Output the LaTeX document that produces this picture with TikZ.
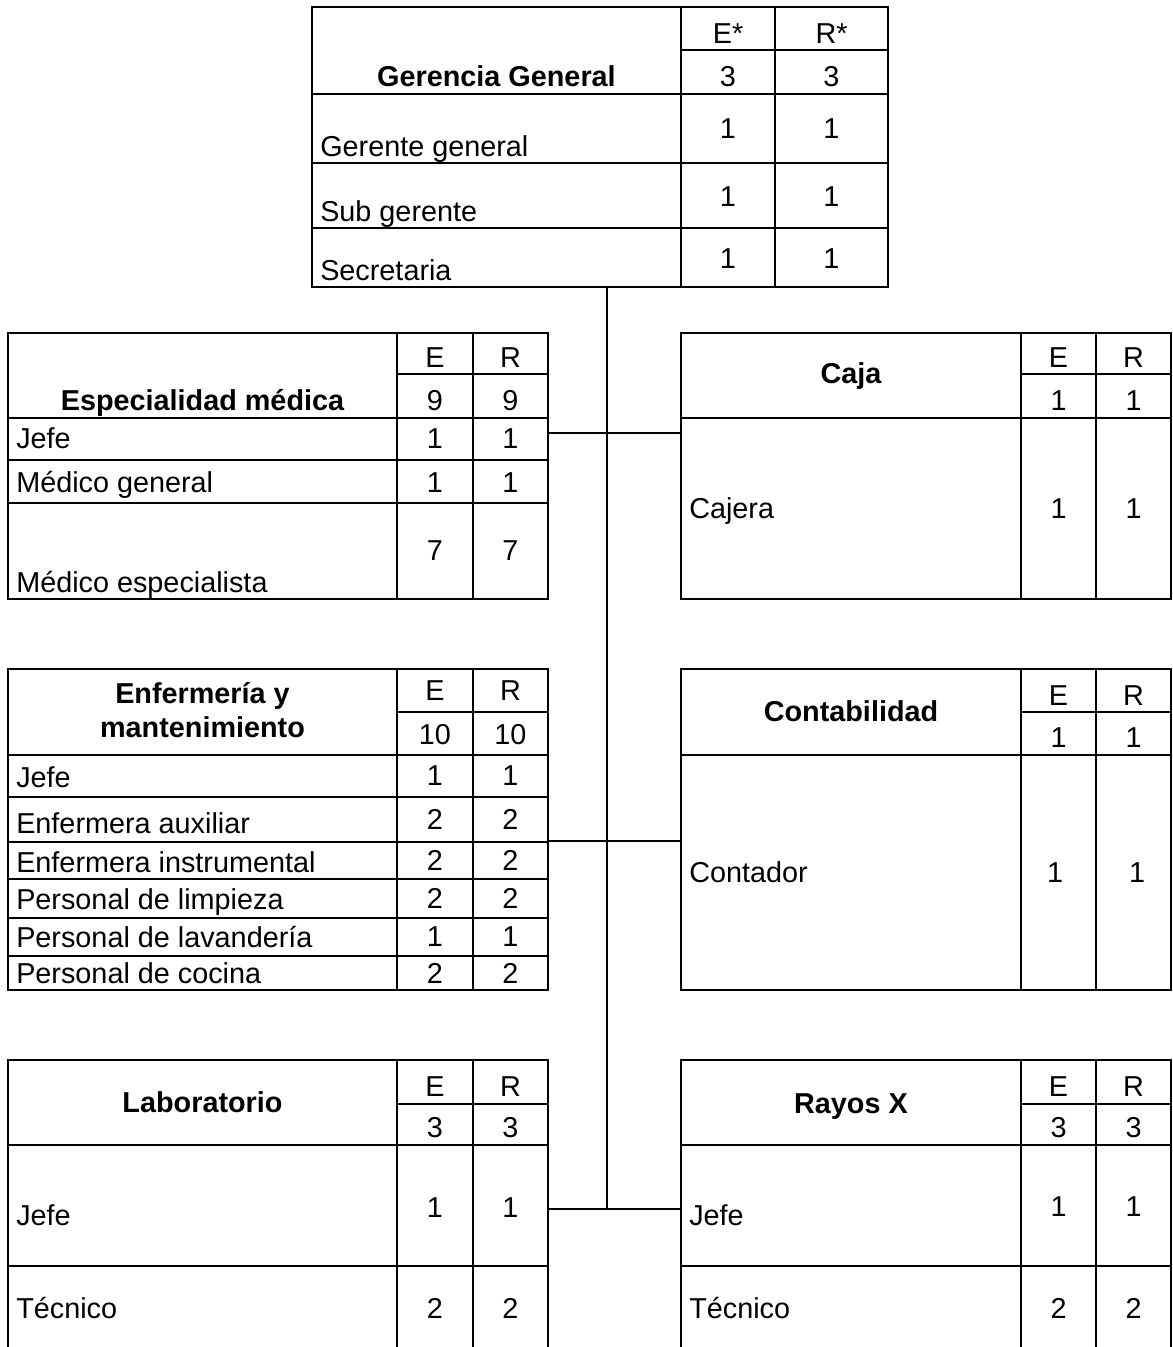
\documentclass[tikz,border=0pt]{standalone}
\usepackage{fontspec}
\setmainfont{Liberation Sans}
\begin{document}
\begin{tikzpicture}[x=0.75pt,y=-0.75pt,
  frame/.style={draw, line width=1.5pt, inner sep=0pt, outer sep=0pt, anchor=north west},
  rule/.style={line width=1.5pt},
  link/.style={line width=1pt},
  lab/.style={font=\fontsize{21.6}{26}\selectfont, inner sep=0pt, anchor=base west},
  num/.style={font=\fontsize{21.6}{26}\selectfont, inner sep=0pt, anchor=base},
  head/.style={font=\fontsize{21.6}{26}\selectfont\bfseries, inner sep=0pt, anchor=base}]
\useasboundingbox (0,0) rectangle (1172,1347);
\clip (0,0) rectangle (1172,1347);

% ---------- Gerencia General ----------
\node[frame, minimum width=432pt, minimum height=210pt] (gg) at (312,7) {};
\draw[rule] (681,7) -- (681,287) (775,7) -- (775,287) (681,50) -- (888,50)
  (312,94) -- (888,94) (312,163) -- (888,163) (312,228) -- (888,228);
\node[head] (gg-h) at (496.5,86) {Gerencia General};
\node[num] (gg-e) at (728,43) {E*};
\node[num] (gg-r) at (831.5,43) {R*};
\node[num] (gg-et) at (728,86) {3};
\node[num] (gg-rt) at (831.5,86) {3};
\node[lab] (gg-1) at (320,156) {Gerente general};
\node[num] (gg-1e) at (728,138) {1};
\node[num] (gg-1r) at (831.5,138) {1};
\node[lab] (gg-2) at (320,221) {Sub gerente};
\node[num] (gg-2e) at (728,206) {1};
\node[num] (gg-2r) at (831.5,206) {1};
\node[lab] (gg-3) at (320,280) {Secretaria};
\node[num] (gg-3e) at (728,268) {1};
\node[num] (gg-3r) at (831.5,268) {1};

% ---------- Especialidad médica ----------
\node[frame, minimum width=405pt, minimum height=199.5pt] (esp) at (8,333) {};
\draw[rule] (397,333) -- (397,599) (473,333) -- (473,599) (397,374) -- (548,374)
  (8,418) -- (548,418) (8,460) -- (548,460) (8,503) -- (548,503);
\node[head] (esp-h) at (202.5,410) {Especialidad médica};
\node[num] (esp-e) at (435,367) {E};
\node[num] (esp-r) at (510.5,367) {R};
\node[num] (esp-et) at (435,410) {9};
\node[num] (esp-rt) at (510.5,410) {9};
\node[lab] (esp-1) at (16,448) {Jefe};
\node[num] (esp-1e) at (435,448) {1};
\node[num] (esp-1r) at (510.5,448) {1};
\node[lab] (esp-2) at (16,492) {Médico general};
\node[num] (esp-2e) at (435,492) {1};
\node[num] (esp-2r) at (510.5,492) {1};
\node[lab] (esp-3) at (16,592) {Médico especialista};
\node[num] (esp-3e) at (435,560) {7};
\node[num] (esp-3r) at (510.5,560) {7};

% ---------- Caja ----------
\node[frame, minimum width=367.5pt, minimum height=199.5pt] (caja) at (681,333) {};
\draw[rule] (1021,333) -- (1021,599) (1096,333) -- (1096,599) (1021,374) -- (1171,374)
  (681,418) -- (1171,418);
\node[head] (caja-h) at (851,383) {Caja};
\node[num] (caja-e) at (1058.5,367) {E};
\node[num] (caja-r) at (1133.5,367) {R};
\node[num] (caja-et) at (1058.5,410) {1};
\node[num] (caja-rt) at (1133.5,410) {1};
\node[lab] (caja-1) at (689,518) {Cajera};
\node[num] (caja-1e) at (1058.5,518) {1};
\node[num] (caja-1r) at (1133.5,518) {1};

% ---------- Enfermería y mantenimiento ----------
\node[frame, minimum width=405pt, minimum height=240.75pt] (enf) at (8,669) {};
\draw[rule] (397,669) -- (397,990) (473,669) -- (473,990) (397,712) -- (548,712)
  (8,755) -- (548,755) (8,797) -- (548,797) (8,842) -- (548,842)
  (8,879) -- (548,879) (8,918) -- (548,918) (8,956) -- (548,956);
\node[head] (enf-h1) at (202.5,703) {Enfermería y};
\node[head] (enf-h2) at (202.5,737) {mantenimiento};
\node[num] (enf-e) at (435,700) {E};
\node[num] (enf-r) at (510.5,700) {R};
\node[num] (enf-et) at (435,744) {10};
\node[num] (enf-rt) at (510.5,744) {10};
\node[lab] (enf-1) at (16,787) {Jefe};
\node[num] (enf-1e) at (435,785) {1};
\node[num] (enf-1r) at (510.5,785) {1};
\node[lab] (enf-2) at (16,833) {Enfermera auxiliar};
\node[num] (enf-2e) at (435,829) {2};
\node[num] (enf-2r) at (510.5,829) {2};
\node[lab] (enf-3) at (16,872) {Enfermera instrumental};
\node[num] (enf-3e) at (435,870) {2};
\node[num] (enf-3r) at (510.5,870) {2};
\node[lab] (enf-4) at (16,909) {Personal de limpieza};
\node[num] (enf-4e) at (435,908) {2};
\node[num] (enf-4r) at (510.5,908) {2};
\node[lab] (enf-5) at (16,947) {Personal de lavandería};
\node[num] (enf-5e) at (435,946) {1};
\node[num] (enf-5r) at (510.5,946) {1};
\node[lab] (enf-6) at (16,983) {Personal de cocina};
\node[num] (enf-6e) at (435,983) {2};
\node[num] (enf-6r) at (510.5,983) {2};

% ---------- Contabilidad ----------
\node[frame, minimum width=367.5pt, minimum height=240.75pt] (cont) at (681,669) {};
\draw[rule] (1021,669) -- (1021,990) (1096,669) -- (1096,990) (1021,712) -- (1171,712)
  (681,755) -- (1171,755);
\node[head] (cont-h) at (851,721) {Contabilidad};
\node[num] (cont-e) at (1058.5,705) {E};
\node[num] (cont-r) at (1133.5,705) {R};
\node[num] (cont-et) at (1058.5,747) {1};
\node[num] (cont-rt) at (1133.5,747) {1};
\node[lab] (cont-1) at (689,882) {Contador};
\node[num] (cont-1e) at (1055,882) {1};
\node[num] (cont-1r) at (1137,882) {1};

% ---------- Laboratorio ----------
\node[frame, minimum width=405pt, minimum height=247.5pt] (labo) at (8,1060) {};
\draw[rule] (397,1060) -- (397,1390) (473,1060) -- (473,1390) (397,1104) -- (548,1104)
  (8,1145) -- (548,1145) (8,1266) -- (548,1266);
\node[head] (labo-h) at (202.5,1112) {Laboratorio};
\node[num] (labo-e) at (435,1096) {E};
\node[num] (labo-r) at (510.5,1096) {R};
\node[num] (labo-et) at (435,1137) {3};
\node[num] (labo-rt) at (510.5,1137) {3};
\node[lab] (labo-1) at (16,1225) {Jefe};
\node[num] (labo-1e) at (435,1217) {1};
\node[num] (labo-1r) at (510.5,1217) {1};
\node[lab] (labo-2) at (16,1318) {Técnico};
\node[num] (labo-2e) at (435,1318) {2};
\node[num] (labo-2r) at (510.5,1318) {2};

% ---------- Rayos X ----------
\node[frame, minimum width=367.5pt, minimum height=247.5pt] (rx) at (681,1060) {};
\draw[rule] (1021,1060) -- (1021,1390) (1096,1060) -- (1096,1390) (1021,1104) -- (1171,1104)
  (681,1145) -- (1171,1145) (681,1266) -- (1171,1266);
\node[head] (rx-h) at (851,1113) {Rayos X};
\node[num] (rx-e) at (1058.5,1096) {E};
\node[num] (rx-r) at (1133.5,1096) {R};
\node[num] (rx-et) at (1058.5,1137) {3};
\node[num] (rx-rt) at (1133.5,1137) {3};
\node[lab] (rx-1) at (689,1225) {Jefe};
\node[num] (rx-1e) at (1058.5,1216) {1};
\node[num] (rx-1r) at (1133.5,1216) {1};
\node[lab] (rx-2) at (689,1318) {Técnico};
\node[num] (rx-2e) at (1058.5,1318) {2};
\node[num] (rx-2r) at (1133.5,1318) {2};

% ---------- Connectors ----------
\coordinate (j1) at (607,433);
\coordinate (j2) at (607,841);
\coordinate (j3) at (607,1209);
\draw[link] (j3 |- gg.south) -- (j3);
\draw[link] (j1 -| esp.east) -- (j1 -| caja.west);
\draw[link] (j2 -| enf.east) -- (j2 -| cont.west);
\draw[link] (j3 -| labo.east) -- (j3 -| rx.west);
\end{tikzpicture}
\end{document}
